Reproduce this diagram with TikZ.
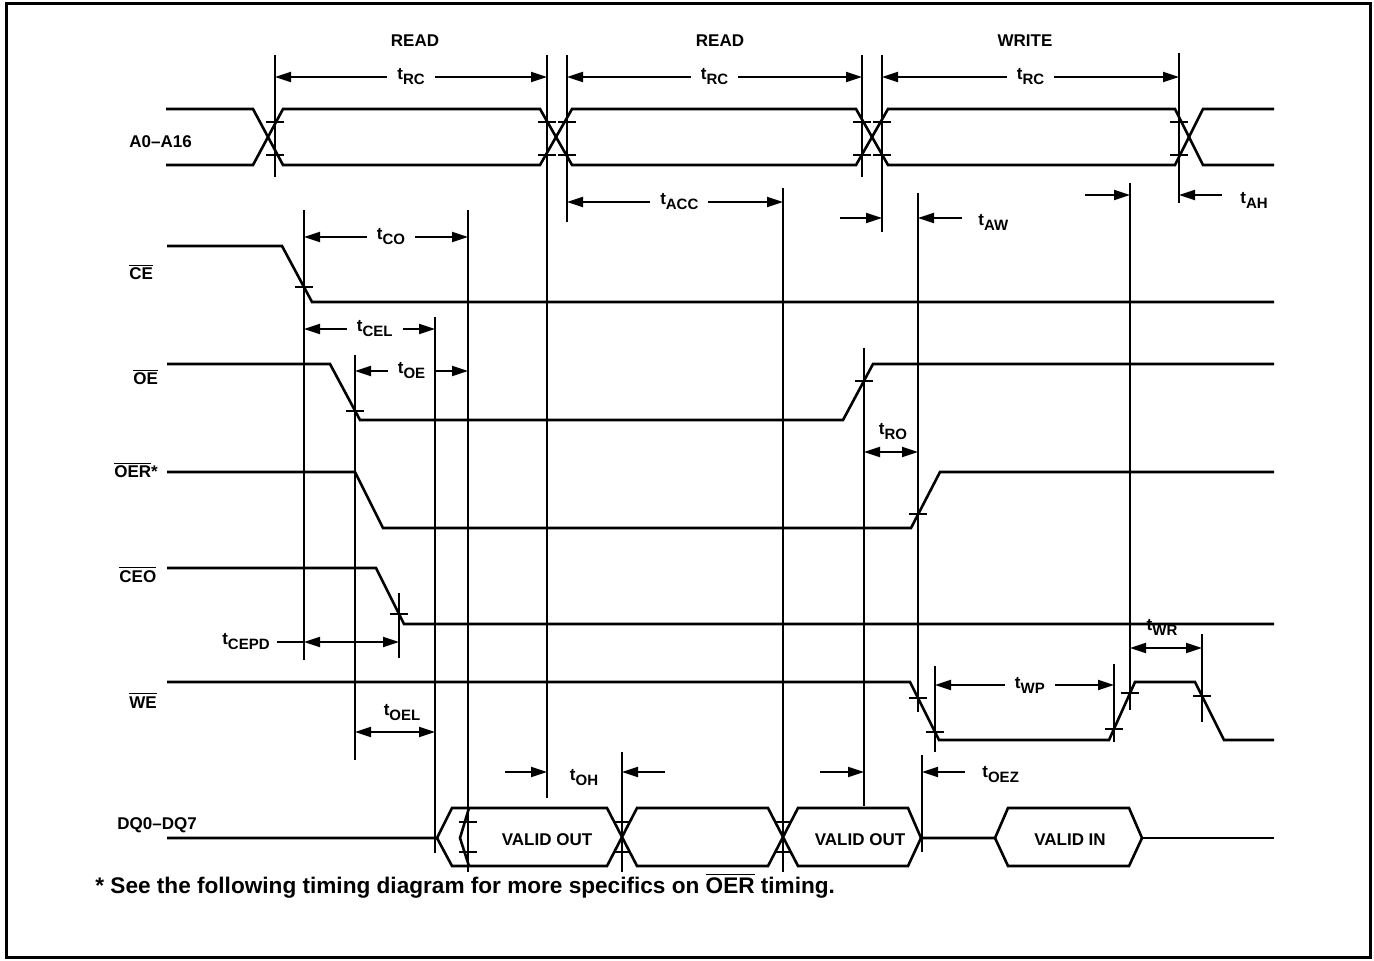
\documentclass[tikz,border=0pt]{standalone}
\usepackage{fontspec}
\setmainfont{Liberation Sans}
\usetikzlibrary{arrows.meta}
\newcommand{\tlab}[1]{t\raisebox{-2.5pt}{\fontsize{7.5}{9}\selectfont #1}}
\newcommand{\ovl}[1]{$\overline{\mbox{#1}}$}

\begin{document}
\begin{tikzpicture}[x=0.5pt,y=-0.5pt,
    wave/.style={line width=1.3pt,line join=miter},
    guide/.style={line width=1pt},
    tk/.style={line width=1pt},
    dim/.style={line width=1pt,-{Triangle[length=8pt,width=5pt]}},
    both/.style={line width=1pt,{Triangle[length=8pt,width=5pt]}-{Triangle[length=8pt,width=5pt]}},
    lbl/.style={font=\fontsize{8.5}{10}\selectfont\bfseries,inner sep=1pt},
    gap/.style={lbl,fill=white,inner xsep=5pt}]
    \useasboundingbox (0,0) rectangle (1374,961);
    \draw[line width=1.5pt] (6,4) rectangle (1370,957);

    \node[lbl,anchor=base] (rd1) at (415,47) {READ};
    \node[lbl,anchor=base] (rd2) at (720,47) {READ};
    \node[lbl,anchor=base] (wr) at (1025,47) {WRITE};

    \draw[both] (275,77) -- (547,77) node[gap,midway] (rc1) {\tlab{RC}};
    \draw[both] (567,77) -- (862,77) node[gap,midway] (rc2) {\tlab{RC}};
    \draw[both] (882,77) -- (1179,77) node[gap,midway] (rc3) {\tlab{RC}};
    \draw[both] (567,202) -- (783,202) node[gap,pos=0.52] (acc) {\tlab{ACC}};
    \draw[dim] (840,218) -- (882,218);
    \draw[dim] (962,218) -- (918,218);
    \node[lbl,anchor=west] (aw) at (976,222) {\tlab{AW}};
    \draw[dim] (1085,195) -- (1130,195);
    \draw[dim] (1222,195) -- (1179,195);
    \node[lbl,anchor=west] (ah) at (1238,200) {\tlab{AH}};
    \draw[both] (304,237) -- (468,237) node[gap,pos=0.53] (co) {\tlab{CO}};
    \draw[both] (304,329) -- (435,329) node[gap,pos=0.54] (cel) {\tlab{CEL}};
    \draw[both] (355,371) -- (468,371) node[gap,midway] (oe) {\tlab{OE}};
    \draw[both] (864,452) -- (918,452);
    \node[lbl] (ro) at (893,432) {\tlab{RO}};
    \draw[guide] (277,642) -- (304,642);
    \draw[both] (304,642) -- (399,642);
    \node[lbl,anchor=east] (cepd) at (272,642) {\tlab{CEPD}};
    \draw[both] (1130,648) -- (1202,648);
    \node[lbl] (twr) at (1162,627) {\tlab{WR}};
    \draw[both] (935,685) -- (1114,685) node[gap,pos=0.53] (wp) {\tlab{WP}};
    \draw[both] (355,732) -- (435,732);
    \node[lbl] (oel) at (402,713) {\tlab{OEL}};
    \draw[dim] (505,772) -- (547,772);
    \draw[dim] (665,772) -- (622,772);
    \node[lbl] (oh) at (584,778) {\tlab{OH}};
    \draw[dim] (820,772) -- (864,772);
    \draw[dim] (965,772) -- (922,772);
    \node[lbl,anchor=west] (oez) at (980,775) {\tlab{OEZ}};

    \draw[guide] (275,55) -- (275,177) (547,55) -- (547,798) (567,55) -- (567,222)
        (862,55) -- (862,177) (882,55) -- (882,232) (1179,53) -- (1179,203)
        (304,210) -- (304,660) (468,210) -- (468,872) (435,317) -- (435,853)
        (355,355) -- (355,760) (864,348) -- (864,806) (783,188) -- (783,872)
        (918,193) -- (918,712) (1130,183) -- (1130,710) (399,593) -- (399,658)
        (935,666) -- (935,752) (1114,664) -- (1114,742) (1202,634) -- (1202,722)
        (622,752) -- (622,872) (922,755) -- (922,852);

    \draw[wave] (166,109) -- (253,109) -- (283,165) -- (540,165) -- (572,109) -- (856,109) -- (888,165) -- (1175,165) -- (1203,109) -- (1274,109);
    \draw[wave] (166,165) -- (253,165) -- (283,109) -- (540,109) -- (572,165) -- (856,165) -- (888,109) -- (1175,109) -- (1203,165) -- (1274,165);
    \draw[wave] (167,246) -- (282,246) -- (312,302) -- (1274,302);
    \draw[wave] (167,364) -- (330,364) -- (360,420) -- (843,420) -- (873,364) -- (1274,364);
    \draw[wave] (167,472) -- (355,472) -- (383,528) -- (911,528) -- (940,472) -- (1274,472);
    \draw[wave] (167,568) -- (376,568) -- (404,624) -- (1274,624);
    \draw[wave] (167,682) -- (910,682) -- (939,740) -- (1109,740) -- (1135,682) -- (1195,682) -- (1224,740) -- (1274,740);
    \draw[wave] (167,838) -- (437,838) -- (452,808) -- (607,808) -- (637,866) -- (768,866) -- (798,808) -- (908,808) -- (921,838) -- (995,838);
    \draw[wave] (437,838) -- (452,866) -- (607,866) -- (637,808) -- (768,808) -- (798,866) -- (908,866) -- (921,838);
    \draw[wave] (469,808) -- (460,838) -- (469,866);
    \draw[wave] (995,838) -- (1008,808) -- (1129,808) -- (1142,838) -- (1129,866) -- (1008,866) -- cycle;
    \draw[wave] (1142,838) -- (1274,838);

    \draw[tk] (266,122) -- ++(18,0) (266,155) -- ++(18,0) (538,122) -- ++(18,0) (538,155) -- ++(18,0)
        (558,122) -- ++(18,0) (558,155) -- ++(18,0) (853,122) -- ++(18,0) (853,155) -- ++(18,0)
        (873,122) -- ++(18,0) (873,155) -- ++(18,0) (1170,122) -- ++(18,0) (1170,155) -- ++(18,0)
        (459,822) -- ++(18,0) (459,852) -- ++(18,0) (613,822) -- ++(18,0) (613,852) -- ++(18,0)
        (774,822) -- ++(18,0) (774,852) -- ++(18,0)
        (295,287) -- ++(18,0) (346,411) -- ++(18,0) (855,381) -- ++(18,0) (909,514) -- ++(18,0)
        (390,614) -- ++(18,0) (909,698) -- ++(18,0) (926,732) -- ++(18,0) (1105,729) -- ++(18,0)
        (1121,693) -- ++(18,0) (1193,696) -- ++(18,0);

    \node[lbl,anchor=base west] (a) at (127,148) {A0--A16};
    \node[lbl,anchor=base west] (ce) at (127,280) {\ovl{CE}};
    \node[lbl,anchor=base west] (oel2) at (131,385) {\ovl{OE}};
    \node[lbl,anchor=base west] (oer) at (112,478) {\ovl{OER}*};
    \node[lbl,anchor=base west] (ceo) at (117,582) {\ovl{CEO}};
    \node[lbl,anchor=base west] (we) at (127,708) {\ovl{WE}};
    \node[lbl,anchor=base west] (dq) at (115,829) {DQ0--DQ7};
    \node[lbl] (vo1) at (547,840) {VALID OUT};
    \node[lbl] (vo2) at (860,840) {VALID OUT};
    \node[lbl] (vin) at (1070,840) {VALID IN};
    \node[anchor=base west,inner sep=0pt,font=\fontsize{11.3}{13}\selectfont\bfseries] (note) at (95,893)
        {* See the following timing diagram for more specifics on \ovl{OER} timing.};
\end{tikzpicture}
\end{document}
